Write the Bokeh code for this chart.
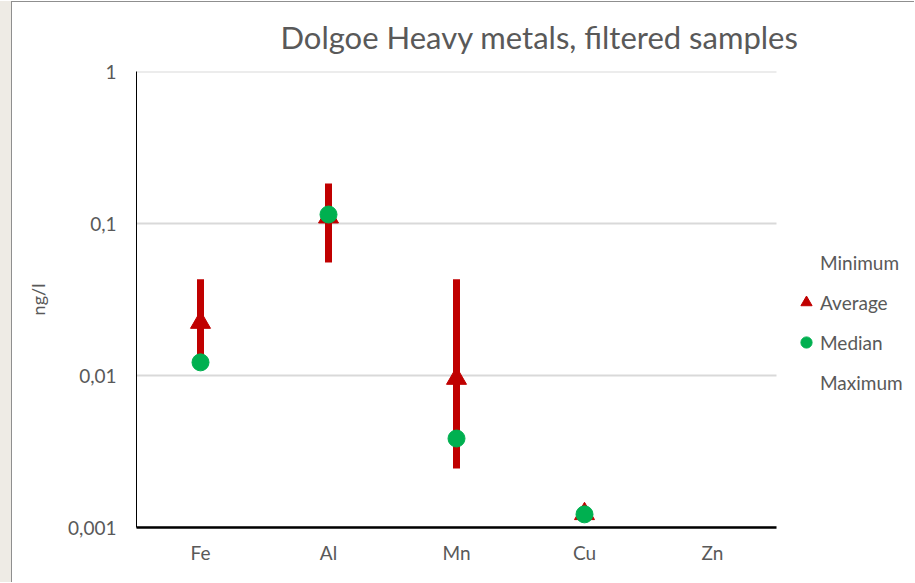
import math
from bokeh.plotting import figure
from bokeh.models import (ColumnDataSource, Range1d, FixedTicker,
                          CustomJSTickFormatter, Legend, LegendItem)
from bokeh.embed import file_html
from bokeh.resources import INLINE

nan = float("nan")

# ---- data ----
categories = ["Fe", "Al", "Mn", "Cu", "Zn"]
minimum = [0.0121, 0.0554, 0.00244, 0.00114, nan]
average = [0.0223, 0.110, 0.00955, 0.00123, nan]
median = [0.0122, 0.1146, 0.00385, 0.00122, nan]
maximum = [0.0429, 0.183, 0.0429, 0.00130, nan]
y_ticks = [0.001, 0.01, 0.1, 1]

title_text = "Dolgoe Heavy metals, filtered samples"
y_label = "ng/l"

FONT = "Lato"
GREY = "#595959"
RED = "#c00000"
GREEN = "#00b050"
EDGE = "#8f8f8f"

n = len(categories)
xpos = [i + 0.5 for i in range(n)]
src = ColumnDataSource(dict(x=xpos, mn=minimum, avg=average,
                            med=median, mx=maximum))

# the frame is extended to the right (empty space) so the legend sits inside it
p = figure(width=903, height=581, x_range=Range1d(0, n + 1),
           y_range=Range1d(y_ticks[0], y_ticks[-1]), y_axis_type="log",
           output_backend="svg", toolbar_location=None,
           min_border_left=124, min_border_right=11,
           min_border_top=69, min_border_bottom=56)
p.outline_line_color = None
p.background_fill_color = "white"
p.border_fill_color = "white"
# chart-area edge and the beige strip on its left, as in the screenshot
p.styles = {"margin-left": "11px", "margin-top": "1px",
            "border-left": "1px solid " + EDGE,
            "border-top": "1px solid " + EDGE,
            "box-shadow": "-12px 0 0 0 #eeebe5"}

# title
p.title.text = title_text
p.title.text_font = FONT
p.title.text_font_size = "31px"
p.title.text_font_style = "normal"
p.title.text_color = GREY
p.title.align = "left"
p.title.vertical_align = "top"
p.title.offset = 144
p.title.standoff = 28

# grid (drawn only over the category area)
p.xgrid.grid_line_color = None
p.ygrid.grid_line_color = None
p.segment(x0=0, x1=n, y0=y_ticks, y1=y_ticks, line_color="#d9d9d9", line_width=2)

# y axis
p.yaxis.ticker = FixedTicker(ticks=y_ticks)
p.yaxis.formatter = CustomJSTickFormatter(code="return tick.toString().replace('.', ',');")
p.yaxis.axis_line_color = "black"
p.yaxis.axis_line_width = 1
p.yaxis.major_tick_line_color = None
p.yaxis.minor_tick_line_color = None
p.yaxis.major_label_text_font = FONT
p.yaxis.major_label_text_font_size = "19px"
p.yaxis.major_label_text_color = GREY
p.yaxis.major_label_standoff = 14
p.yaxis.axis_label = y_label
p.yaxis.axis_label_text_font = FONT
p.yaxis.axis_label_text_font_size = "18px"
p.yaxis.axis_label_text_font_style = "normal"
p.yaxis.axis_label_text_color = GREY
p.yaxis.axis_label_standoff = 16

# x axis
p.xaxis.ticker = FixedTicker(ticks=xpos)
p.xaxis.formatter = CustomJSTickFormatter(
    args=dict(names=categories),
    code="return names[Math.round(tick - 0.5)] || '';")
p.xaxis.bounds = (0, n)
p.xaxis.axis_line_color = "black"
p.xaxis.axis_line_width = 2.5
p.xaxis.major_tick_line_color = None
p.xaxis.minor_tick_line_color = None
p.xaxis.major_label_text_font = FONT
p.xaxis.major_label_text_font_size = "19px"
p.xaxis.major_label_text_color = GREY
p.xaxis.major_label_standoff = 7

# high-low bars
p.segment(x0="x", y0="mn", x1="x", y1="mx", source=src,
          line_color=RED, line_width=7)
r_min = p.scatter(x="x", y="mn", source=src, marker="circle", size=8,
                  fill_alpha=0, line_alpha=0)
r_avg = p.scatter(x="x", y="avg", source=src, marker="triangle", size=20,
                  fill_color=RED, line_color=RED)
r_med = p.scatter(x="x", y="med", source=src, marker="circle", size=17,
                  fill_color=GREEN, line_color=GREEN)
r_max = p.scatter(x="x", y="mx", source=src, marker="circle", size=8,
                  fill_alpha=0, line_alpha=0)

legend = Legend(items=[LegendItem(label="Minimum", renderers=[r_min]),
                       LegendItem(label="Average", renderers=[r_avg]),
                       LegendItem(label="Median", renderers=[r_med]),
                       LegendItem(label="Maximum", renderers=[r_max])],
                location=(656, 129), orientation="vertical",
                glyph_width=28, glyph_height=32, label_height=32,
                spacing=8, label_standoff=0, padding=0, margin=0,
                border_line_color=None, background_fill_alpha=0,
                label_text_font=FONT, label_text_font_size="19px",
                label_text_color=GREY)
p.add_layout(legend, "center")

open("out.html", "w").write(file_html(p, INLINE))
